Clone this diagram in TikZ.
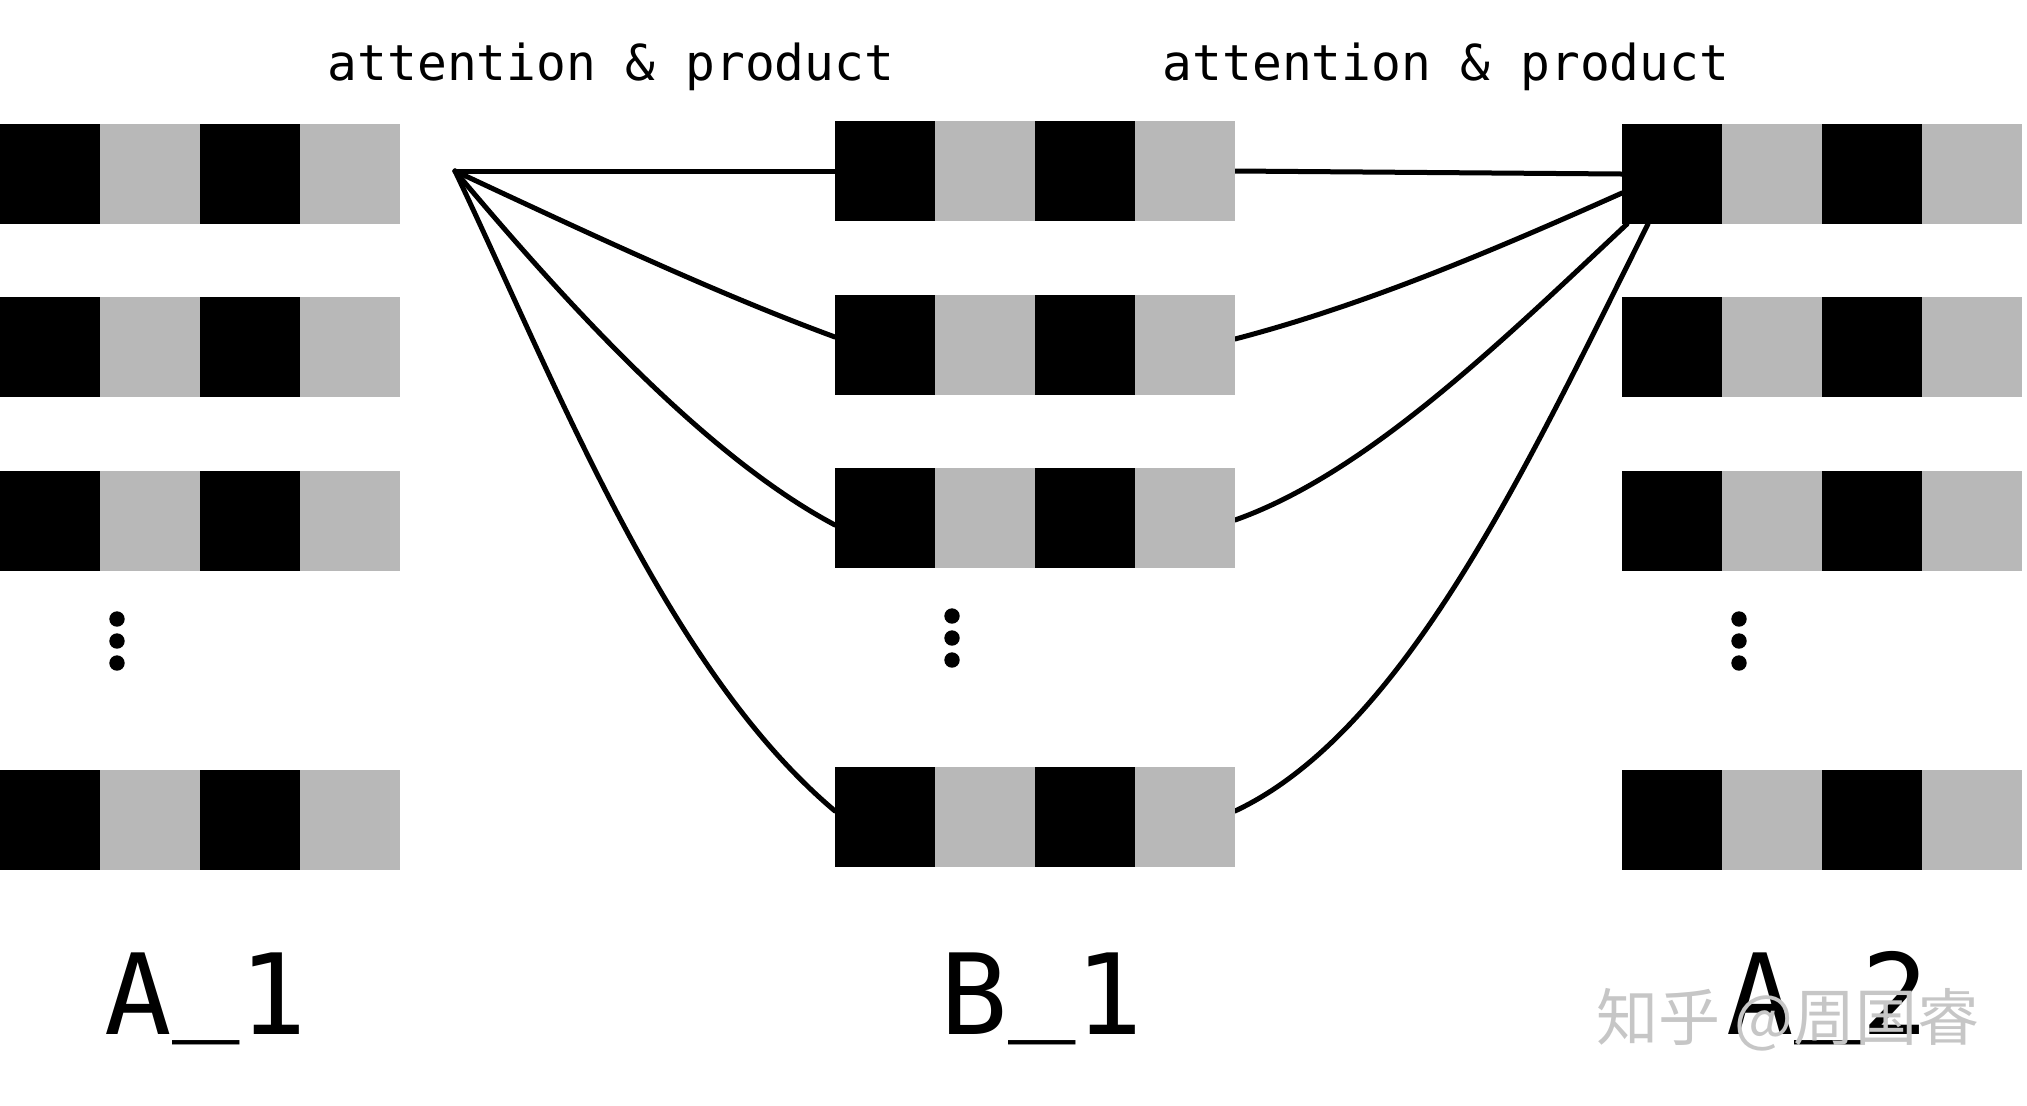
\documentclass[tikz,border=0pt]{standalone}
\usepackage{fontspec}
\newfontfamily\monofont{DejaVu Sans Mono}
\newfontfamily\cjkfont{Noto Sans CJK SC}
\definecolor{cellgray}{RGB}{184,184,184}
\definecolor{wmgray}{RGB}{198,198,198}
\pgfdeclarelayer{bg}
\pgfsetlayers{bg,main}
\tikzset{
  cellblack/.style={fill=black, draw=none, minimum width=50pt, minimum height=50pt, inner sep=0pt, outer sep=0pt},
  cellgrey/.style={fill=cellgray, draw=none, minimum width=50pt, minimum height=50pt, inner sep=0pt, outer sep=0pt},
  link/.style={line width=2.5pt, line cap=round},
  head/.style={font=\monofont\fontsize{24.75}{30}\selectfont, inner sep=0pt, anchor=base},
  lab/.style={font=\monofont\fontsize{56}{60}\selectfont, inner sep=0pt, anchor=base},
  vdot/.style={circle, fill=black, minimum size=7.7pt, inner sep=0pt},
  wmark/.style={font=\cjkfont\fontsize{31}{34}\selectfont, text=wmgray, inner sep=0pt}
}
\newcommand\cellrow[3]{%
  \node[cellblack] (#1-1) at ({#2+50},{#3+50}) {};
  \node[cellgrey]  (#1-2) at ({#2+150},{#3+50}) {};
  \node[cellblack] (#1-3) at ({#2+250},{#3+50}) {};
  \node[cellgrey]  (#1-4) at ({#2+350},{#3+50}) {};
}
\newcommand\hiunder{\raisebox{8pt}{\_}}
\begin{document}
\begin{tikzpicture}[x=0.5pt,y=-0.5pt]
\useasboundingbox (0,0) rectangle (2027,1105);
% headings
\node[head] (h1) at (611,80) {attention \& product};
\node[head] (h2) at (1446,80) {attention \& product};
% A_1 rows
\cellrow{a1r1}{0}{124}
\cellrow{a1r2}{0}{297}
\cellrow{a1r3}{0}{471}
\cellrow{a1r4}{0}{770}
% B_1 rows
\cellrow{b1r1}{835}{121}
\cellrow{b1r2}{835}{295}
\cellrow{b1r3}{835}{468}
\cellrow{b1r4}{835}{767}
% A_2 rows
\cellrow{a2r1}{1622}{124}
\cellrow{a2r2}{1622}{297}
\cellrow{a2r3}{1622}{471}
\cellrow{a2r4}{1622}{770}
% vertical dots
\node[vdot] (ad1) at (117,619) {};
\node[vdot] (ad2) at (117,641) {};
\node[vdot] (ad3) at (117,663) {};
\node[vdot] (bd1) at (952,616) {};
\node[vdot] (bd2) at (952,638) {};
\node[vdot] (bd3) at (952,660) {};
\node[vdot] (cd1) at (1739,619) {};
\node[vdot] (cd2) at (1739,641) {};
\node[vdot] (cd3) at (1739,663) {};
% origin of the fan on the left
\coordinate (o) at (455,171);
% connectors
\begin{pgfonlayer}{bg}
\draw[link] (o) -- (b1r1-1.west);
\draw[link] (o) .. controls +(120,56) and +(-120,-44) .. ([yshift=4pt]b1r2-1.west);
\draw[link] (o) .. controls +(110,131) and +(-130,-69) .. ([yshift=-3.5pt]b1r3-1.west);
\draw[link] (o) .. controls +(100,210) and +(-170,-143) .. ([yshift=3pt]b1r4-1.west);
\draw[link] (b1r1-4.east) -- (a2r1-1.west);
\draw[link] ([yshift=3pt]b1r2-4.east) .. controls +(130,-34) and +(-130,58) .. ([yshift=-9.5pt]a2r1-1.west);
\draw[link] ([yshift=-1pt]b1r3-4.east) .. controls +(130,-46) and +(-130,122) .. ([xshift=2.5pt]a2r1-1.south west);
\draw[link] ([yshift=3pt]b1r4-4.east) .. controls +(170,-80) and +(-120,240) .. ([xshift=13pt]a2r1-1.south west);
\end{pgfonlayer}
% labels
\node[lab] (la1) at (206,1034) {A\hiunder 1};
\node[lab] (lb1) at (1042,1034) {B\hiunder 1};
\node[lab] (la2) at (1828,1034) {A\hiunder 2};
% watermark
\node[wmark] (wm) at (1788,1020) {知乎 @周国睿};
\end{tikzpicture}
\end{document}
